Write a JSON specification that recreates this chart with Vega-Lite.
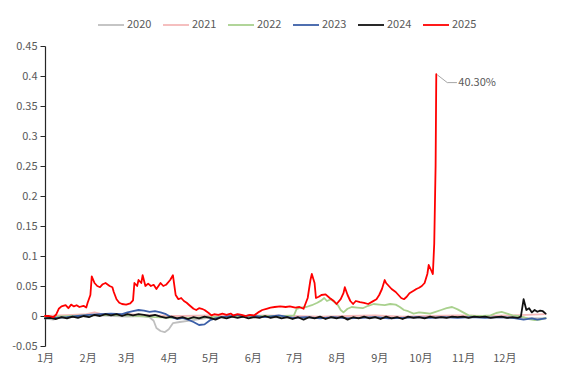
{
"$schema": "https://vega.github.io/schema/vega-lite/v6.json",
"width": 502, "height": 300,
"autosize": "none",
"padding": {"left": 45, "top": 46, "right": 22, "bottom": 30},
"background": "white",
"config": {"view": {"stroke": null}, "font": "Noto Sans CJK SC"},
"datasets": {
"series": [
{"year":"2020","day":0,"v":-0.004},{"year":"2020","day":6,"v":-0.006},{"year":"2020","day":10,"v":-0.003},{"year":"2020","day":20,"v":-0.002},{"year":"2020","day":30,"v":0.0},{"year":"2020","day":40,"v":0.001},{"year":"2020","day":50,"v":0.0},{"year":"2020","day":60,"v":-0.001},{"year":"2020","day":70,"v":0.0},{"year":"2020","day":76,"v":-0.002},{"year":"2020","day":79,"v":-0.008},{"year":"2020","day":81,"v":-0.02},{"year":"2020","day":84,"v":-0.025},{"year":"2020","day":87,"v":-0.027},{"year":"2020","day":90,"v":-0.022},{"year":"2020","day":93,"v":-0.012},{"year":"2020","day":98,"v":-0.01},{"year":"2020","day":104,"v":-0.008},{"year":"2020","day":110,"v":-0.006},{"year":"2020","day":116,"v":-0.004},{"year":"2020","day":122,"v":-0.002},{"year":"2020","day":130,"v":0.0},{"year":"2020","day":140,"v":-0.001},{"year":"2020","day":160,"v":-0.002},{"year":"2020","day":180,"v":-0.003},{"year":"2020","day":200,"v":-0.002},{"year":"2020","day":220,"v":-0.003},{"year":"2020","day":240,"v":-0.002},{"year":"2020","day":260,"v":-0.003},{"year":"2020","day":280,"v":-0.002},{"year":"2020","day":300,"v":-0.002},{"year":"2020","day":320,"v":-0.002},{"year":"2020","day":340,"v":-0.003},{"year":"2020","day":364,"v":-0.004},
{"year":"2021","day":0,"v":0.0},{"year":"2021","day":10,"v":0.001},{"year":"2021","day":20,"v":0.002},{"year":"2021","day":30,"v":0.003},{"year":"2021","day":36,"v":0.006},{"year":"2021","day":40,"v":0.004},{"year":"2021","day":50,"v":0.002},{"year":"2021","day":60,"v":0.003},{"year":"2021","day":70,"v":0.002},{"year":"2021","day":80,"v":0.001},{"year":"2021","day":90,"v":0.0},{"year":"2021","day":100,"v":0.0},{"year":"2021","day":120,"v":0.001},{"year":"2021","day":140,"v":0.0},{"year":"2021","day":160,"v":0.001},{"year":"2021","day":180,"v":0.0},{"year":"2021","day":200,"v":-0.001},{"year":"2021","day":220,"v":0.0},{"year":"2021","day":240,"v":0.001},{"year":"2021","day":260,"v":-0.001},{"year":"2021","day":280,"v":0.0},{"year":"2021","day":300,"v":0.001},{"year":"2021","day":320,"v":0.0},{"year":"2021","day":340,"v":0.001},{"year":"2021","day":350,"v":0.002},{"year":"2021","day":364,"v":0.003},
{"year":"2022","day":0,"v":-0.002},{"year":"2022","day":20,"v":0.0},{"year":"2022","day":40,"v":0.002},{"year":"2022","day":60,"v":0.001},{"year":"2022","day":80,"v":-0.002},{"year":"2022","day":100,"v":-0.004},{"year":"2022","day":120,"v":-0.002},{"year":"2022","day":140,"v":-0.001},{"year":"2022","day":160,"v":0.0},{"year":"2022","day":175,"v":0.0},{"year":"2022","day":181,"v":0.001},{"year":"2022","day":183,"v":0.012},{"year":"2022","day":186,"v":0.014},{"year":"2022","day":190,"v":0.015},{"year":"2022","day":194,"v":0.018},{"year":"2022","day":198,"v":0.022},{"year":"2022","day":201,"v":0.026},{"year":"2022","day":203,"v":0.03},{"year":"2022","day":205,"v":0.025},{"year":"2022","day":208,"v":0.028},{"year":"2022","day":211,"v":0.022},{"year":"2022","day":213,"v":0.018},{"year":"2022","day":215,"v":0.01},{"year":"2022","day":217,"v":0.006},{"year":"2022","day":220,"v":0.012},{"year":"2022","day":223,"v":0.015},{"year":"2022","day":227,"v":0.014},{"year":"2022","day":231,"v":0.013},{"year":"2022","day":235,"v":0.017},{"year":"2022","day":239,"v":0.02},{"year":"2022","day":243,"v":0.019},{"year":"2022","day":247,"v":0.018},{"year":"2022","day":251,"v":0.02},{"year":"2022","day":255,"v":0.019},{"year":"2022","day":258,"v":0.015},{"year":"2022","day":261,"v":0.01},{"year":"2022","day":264,"v":0.008},{"year":"2022","day":268,"v":0.004},{"year":"2022","day":272,"v":0.006},{"year":"2022","day":276,"v":0.005},{"year":"2022","day":280,"v":0.004},{"year":"2022","day":284,"v":0.007},{"year":"2022","day":288,"v":0.01},{"year":"2022","day":292,"v":0.013},{"year":"2022","day":296,"v":0.015},{"year":"2022","day":300,"v":0.011},{"year":"2022","day":304,"v":0.006},{"year":"2022","day":308,"v":0.001},{"year":"2022","day":312,"v":0.0},{"year":"2022","day":318,"v":0.0},{"year":"2022","day":324,"v":0.001},{"year":"2022","day":328,"v":0.005},{"year":"2022","day":332,"v":0.007},{"year":"2022","day":336,"v":0.004},{"year":"2022","day":340,"v":0.001},{"year":"2022","day":344,"v":0.0},{"year":"2022","day":348,"v":-0.002},{"year":"2022","day":352,"v":-0.005},{"year":"2022","day":356,"v":-0.007},{"year":"2022","day":360,"v":-0.006},{"year":"2022","day":364,"v":-0.003},
{"year":"2023","day":0,"v":-0.004},{"year":"2023","day":8,"v":-0.003},{"year":"2023","day":16,"v":-0.002},{"year":"2023","day":24,"v":0.0},{"year":"2023","day":32,"v":0.002},{"year":"2023","day":40,"v":0.003},{"year":"2023","day":48,"v":0.004},{"year":"2023","day":56,"v":0.003},{"year":"2023","day":60,"v":0.006},{"year":"2023","day":64,"v":0.008},{"year":"2023","day":68,"v":0.01},{"year":"2023","day":72,"v":0.009},{"year":"2023","day":76,"v":0.007},{"year":"2023","day":80,"v":0.008},{"year":"2023","day":84,"v":0.006},{"year":"2023","day":88,"v":0.003},{"year":"2023","day":92,"v":-0.002},{"year":"2023","day":96,"v":-0.005},{"year":"2023","day":100,"v":-0.003},{"year":"2023","day":104,"v":-0.006},{"year":"2023","day":108,"v":-0.01},{"year":"2023","day":112,"v":-0.015},{"year":"2023","day":116,"v":-0.014},{"year":"2023","day":120,"v":-0.007},{"year":"2023","day":124,"v":-0.004},{"year":"2023","day":128,"v":-0.002},{"year":"2023","day":136,"v":0.0},{"year":"2023","day":140,"v":0.002},{"year":"2023","day":144,"v":-0.001},{"year":"2023","day":148,"v":0.001},{"year":"2023","day":152,"v":0.0},{"year":"2023","day":160,"v":-0.002},{"year":"2023","day":170,"v":0.001},{"year":"2023","day":180,"v":-0.003},{"year":"2023","day":190,"v":-0.002},{"year":"2023","day":200,"v":-0.004},{"year":"2023","day":210,"v":-0.002},{"year":"2023","day":220,"v":-0.004},{"year":"2023","day":230,"v":-0.003},{"year":"2023","day":240,"v":-0.002},{"year":"2023","day":250,"v":-0.004},{"year":"2023","day":260,"v":-0.003},{"year":"2023","day":270,"v":-0.002},{"year":"2023","day":280,"v":-0.003},{"year":"2023","day":290,"v":-0.002},{"year":"2023","day":300,"v":-0.003},{"year":"2023","day":310,"v":-0.002},{"year":"2023","day":320,"v":-0.003},{"year":"2023","day":330,"v":-0.002},{"year":"2023","day":340,"v":-0.003},{"year":"2023","day":348,"v":-0.006},{"year":"2023","day":354,"v":-0.004},{"year":"2023","day":358,"v":-0.006},{"year":"2023","day":364,"v":-0.004},
{"year":"2024","day":0,"v":-0.004},{"year":"2024","day":4,"v":-0.003},{"year":"2024","day":8,"v":-0.005},{"year":"2024","day":12,"v":-0.002},{"year":"2024","day":16,"v":-0.004},{"year":"2024","day":20,"v":-0.001},{"year":"2024","day":24,"v":-0.003},{"year":"2024","day":28,"v":0.0},{"year":"2024","day":32,"v":-0.002},{"year":"2024","day":36,"v":0.002},{"year":"2024","day":40,"v":0.0},{"year":"2024","day":44,"v":0.003},{"year":"2024","day":48,"v":0.001},{"year":"2024","day":52,"v":0.003},{"year":"2024","day":56,"v":0.0},{"year":"2024","day":60,"v":0.003},{"year":"2024","day":64,"v":0.001},{"year":"2024","day":68,"v":0.003},{"year":"2024","day":72,"v":0.002},{"year":"2024","day":76,"v":0.0},{"year":"2024","day":80,"v":0.002},{"year":"2024","day":84,"v":-0.001},{"year":"2024","day":88,"v":-0.003},{"year":"2024","day":92,"v":-0.001},{"year":"2024","day":96,"v":-0.004},{"year":"2024","day":100,"v":-0.002},{"year":"2024","day":104,"v":-0.005},{"year":"2024","day":108,"v":-0.002},{"year":"2024","day":112,"v":-0.004},{"year":"2024","day":116,"v":-0.001},{"year":"2024","day":120,"v":-0.003},{"year":"2024","day":124,"v":-0.006},{"year":"2024","day":128,"v":-0.002},{"year":"2024","day":132,"v":-0.004},{"year":"2024","day":136,"v":-0.001},{"year":"2024","day":140,"v":-0.003},{"year":"2024","day":144,"v":-0.001},{"year":"2024","day":148,"v":-0.004},{"year":"2024","day":152,"v":-0.002},{"year":"2024","day":156,"v":-0.003},{"year":"2024","day":160,"v":0.0},{"year":"2024","day":164,"v":-0.003},{"year":"2024","day":168,"v":-0.001},{"year":"2024","day":172,"v":-0.004},{"year":"2024","day":176,"v":-0.002},{"year":"2024","day":180,"v":-0.005},{"year":"2024","day":184,"v":-0.002},{"year":"2024","day":188,"v":-0.006},{"year":"2024","day":192,"v":-0.002},{"year":"2024","day":196,"v":-0.004},{"year":"2024","day":200,"v":-0.001},{"year":"2024","day":204,"v":-0.005},{"year":"2024","day":208,"v":-0.002},{"year":"2024","day":212,"v":-0.004},{"year":"2024","day":216,"v":-0.001},{"year":"2024","day":220,"v":-0.006},{"year":"2024","day":224,"v":-0.002},{"year":"2024","day":228,"v":-0.004},{"year":"2024","day":232,"v":-0.001},{"year":"2024","day":236,"v":-0.004},{"year":"2024","day":240,"v":-0.002},{"year":"2024","day":244,"v":-0.005},{"year":"2024","day":248,"v":-0.001},{"year":"2024","day":252,"v":-0.004},{"year":"2024","day":256,"v":-0.002},{"year":"2024","day":260,"v":-0.005},{"year":"2024","day":264,"v":-0.001},{"year":"2024","day":268,"v":-0.003},{"year":"2024","day":272,"v":-0.002},{"year":"2024","day":276,"v":-0.004},{"year":"2024","day":280,"v":-0.001},{"year":"2024","day":284,"v":-0.003},{"year":"2024","day":288,"v":-0.002},{"year":"2024","day":292,"v":-0.003},{"year":"2024","day":296,"v":-0.001},{"year":"2024","day":300,"v":-0.002},{"year":"2024","day":304,"v":-0.001},{"year":"2024","day":308,"v":-0.003},{"year":"2024","day":312,"v":-0.001},{"year":"2024","day":316,"v":-0.002},{"year":"2024","day":320,"v":-0.001},{"year":"2024","day":324,"v":-0.003},{"year":"2024","day":328,"v":-0.002},{"year":"2024","day":332,"v":-0.001},{"year":"2024","day":336,"v":-0.003},{"year":"2024","day":340,"v":-0.002},{"year":"2024","day":344,"v":-0.003},{"year":"2024","day":346,"v":-0.001},{"year":"2024","day":348,"v":0.028},{"year":"2024","day":350,"v":0.01},{"year":"2024","day":352,"v":0.013},{"year":"2024","day":354,"v":0.006},{"year":"2024","day":356,"v":0.01},{"year":"2024","day":358,"v":0.007},{"year":"2024","day":360,"v":0.009},{"year":"2024","day":362,"v":0.008},{"year":"2024","day":364,"v":0.004},
{"year":"2025","day":0,"v":0.0},{"year":"2025","day":3,"v":0.0},{"year":"2025","day":6,"v":-0.002},{"year":"2025","day":8,"v":0.002},{"year":"2025","day":10,"v":0.012},{"year":"2025","day":12,"v":0.016},{"year":"2025","day":15,"v":0.018},{"year":"2025","day":17,"v":0.013},{"year":"2025","day":19,"v":0.019},{"year":"2025","day":21,"v":0.016},{"year":"2025","day":23,"v":0.018},{"year":"2025","day":25,"v":0.015},{"year":"2025","day":28,"v":0.017},{"year":"2025","day":30,"v":0.014},{"year":"2025","day":31,"v":0.022},{"year":"2025","day":33,"v":0.035},{"year":"2025","day":34,"v":0.066},{"year":"2025","day":36,"v":0.055},{"year":"2025","day":38,"v":0.05},{"year":"2025","day":40,"v":0.048},{"year":"2025","day":42,"v":0.053},{"year":"2025","day":44,"v":0.055},{"year":"2025","day":47,"v":0.05},{"year":"2025","day":49,"v":0.048},{"year":"2025","day":50,"v":0.04},{"year":"2025","day":52,"v":0.028},{"year":"2025","day":54,"v":0.022},{"year":"2025","day":56,"v":0.02},{"year":"2025","day":59,"v":0.019},{"year":"2025","day":62,"v":0.021},{"year":"2025","day":64,"v":0.026},{"year":"2025","day":65,"v":0.055},{"year":"2025","day":67,"v":0.05},{"year":"2025","day":68,"v":0.06},{"year":"2025","day":70,"v":0.055},{"year":"2025","day":71,"v":0.068},{"year":"2025","day":73,"v":0.05},{"year":"2025","day":75,"v":0.054},{"year":"2025","day":77,"v":0.05},{"year":"2025","day":79,"v":0.052},{"year":"2025","day":81,"v":0.045},{"year":"2025","day":84,"v":0.055},{"year":"2025","day":86,"v":0.05},{"year":"2025","day":88,"v":0.052},{"year":"2025","day":91,"v":0.06},{"year":"2025","day":93,"v":0.068},{"year":"2025","day":95,"v":0.035},{"year":"2025","day":97,"v":0.028},{"year":"2025","day":99,"v":0.03},{"year":"2025","day":101,"v":0.025},{"year":"2025","day":103,"v":0.022},{"year":"2025","day":105,"v":0.018},{"year":"2025","day":108,"v":0.012},{"year":"2025","day":110,"v":0.01},{"year":"2025","day":112,"v":0.013},{"year":"2025","day":114,"v":0.012},{"year":"2025","day":116,"v":0.01},{"year":"2025","day":119,"v":0.005},{"year":"2025","day":121,"v":0.001},{"year":"2025","day":123,"v":0.003},{"year":"2025","day":126,"v":0.002},{"year":"2025","day":129,"v":0.004},{"year":"2025","day":132,"v":0.002},{"year":"2025","day":135,"v":0.004},{"year":"2025","day":137,"v":0.001},{"year":"2025","day":140,"v":0.003},{"year":"2025","day":143,"v":0.002},{"year":"2025","day":146,"v":0.0},{"year":"2025","day":149,"v":0.002},{"year":"2025","day":152,"v":0.001},{"year":"2025","day":155,"v":0.006},{"year":"2025","day":158,"v":0.01},{"year":"2025","day":161,"v":0.012},{"year":"2025","day":164,"v":0.014},{"year":"2025","day":167,"v":0.015},{"year":"2025","day":171,"v":0.016},{"year":"2025","day":175,"v":0.015},{"year":"2025","day":178,"v":0.016},{"year":"2025","day":182,"v":0.014},{"year":"2025","day":185,"v":0.015},{"year":"2025","day":188,"v":0.012},{"year":"2025","day":191,"v":0.03},{"year":"2025","day":193,"v":0.06},{"year":"2025","day":194,"v":0.07},{"year":"2025","day":196,"v":0.055},{"year":"2025","day":197,"v":0.03},{"year":"2025","day":199,"v":0.032},{"year":"2025","day":201,"v":0.035},{"year":"2025","day":204,"v":0.036},{"year":"2025","day":207,"v":0.03},{"year":"2025","day":210,"v":0.025},{"year":"2025","day":212,"v":0.02},{"year":"2025","day":215,"v":0.028},{"year":"2025","day":217,"v":0.038},{"year":"2025","day":218,"v":0.048},{"year":"2025","day":220,"v":0.035},{"year":"2025","day":222,"v":0.025},{"year":"2025","day":224,"v":0.02},{"year":"2025","day":226,"v":0.025},{"year":"2025","day":229,"v":0.023},{"year":"2025","day":232,"v":0.022},{"year":"2025","day":235,"v":0.02},{"year":"2025","day":238,"v":0.024},{"year":"2025","day":241,"v":0.028},{"year":"2025","day":243,"v":0.035},{"year":"2025","day":245,"v":0.045},{"year":"2025","day":247,"v":0.06},{"year":"2025","day":248,"v":0.055},{"year":"2025","day":250,"v":0.05},{"year":"2025","day":252,"v":0.045},{"year":"2025","day":255,"v":0.04},{"year":"2025","day":257,"v":0.035},{"year":"2025","day":259,"v":0.03},{"year":"2025","day":261,"v":0.028},{"year":"2025","day":263,"v":0.032},{"year":"2025","day":265,"v":0.038},{"year":"2025","day":268,"v":0.042},{"year":"2025","day":270,"v":0.045},{"year":"2025","day":272,"v":0.047},{"year":"2025","day":274,"v":0.05},{"year":"2025","day":276,"v":0.055},{"year":"2025","day":278,"v":0.07},{"year":"2025","day":279,"v":0.085},{"year":"2025","day":281,"v":0.075},{"year":"2025","day":282,"v":0.07},{"year":"2025","day":283,"v":0.12},{"year":"2025","day":284,"v":0.25},{"year":"2025","day":284.5,"v":0.403}
]
},
"layer": [
{
"data": {"name": "series"},
"mark": {"type": "line", "strokeJoin": "round", "strokeCap": "round"},
"encoding": {
"x": {"field": "day", "type": "quantitative", "scale": {"domain": [0, 365], "nice": false, "zero": false},
 "axis": {"title": null, "values": [0,31,59,90,120,151,181,212,243,273,304,334], "tickCount": 30, "labelExpr": "(indexof([0,31,59,90,120,151,181,212,243,273,304,334], datum.value) + 1) + '月'", "domain": false, "ticks": false, "grid": false, "labelPadding": 6, "labelFontSize": 11, "labelColor": "#595959", "labelFlush": false, "labelOverlap": false}},
"y": {"field": "v", "type": "quantitative", "scale": {"domain": [-0.05, 0.45], "nice": false, "zero": false},
 "axis": {"title": null, "values": [-0.05,0,0.05,0.1,0.15,0.2,0.25,0.3,0.35,0.4,0.45], "tickCount": 30, "labelExpr": "'' + datum.value", "grid": false, "domainColor": "#262626", "domainWidth": 1.2, "tickColor": "#262626", "tickSize": 5, "labelPadding": 3, "labelFontSize": 11, "labelColor": "#595959", "labelOverlap": false, "labelFlush": false}},
"color": {"field": "year", "type": "nominal", "scale": {"domain": ["2020","2021","2022","2023","2024","2025"], "range": ["#BFBFBF","#F4B8B8","#A9D18E","#3B5FA8","#111111","#FF0000"]},
 "legend": {"title": null, "orient": "none", "legendX": 52, "legendY": -35, "direction": "horizontal", "symbolType": "stroke", "symbolSize": 676, "symbolStrokeWidth": 3, "labelFontSize": 11, "labelColor": "#595959", "labelOffset": 2, "columnPadding": 7, "padding": 0}},
"strokeWidth": {"field": "year", "type": "ordinal", "scale": {"domain": ["2020","2021","2022","2023","2024","2025"], "range": [1.8,1.8,1.8,1.8,2,3.8]}, "legend": null}
}
},
{
"data": {"values": [{"day": 285.2, "v": 0.402, "k": 0}, {"day": 292.5, "v": 0.389, "k": 1}, {"day": 299.5, "v": 0.389, "k": 2}]},
"mark": {"type": "line", "color": "#A6A6A6", "strokeWidth": 1},
"encoding": {"x": {"field": "day", "type": "quantitative"}, "y": {"field": "v", "type": "quantitative"}, "order": {"field": "k", "type": "quantitative"}}
},
{
"data": {"values": [{"day": 300.5, "v": 0.389, "label": "40.30%"}]},
"mark": {"type": "text", "align": "left", "baseline": "middle", "fontSize": 11, "color": "#595959"},
"encoding": {"x": {"field": "day", "type": "quantitative"}, "y": {"field": "v", "type": "quantitative"}, "text": {"field": "label"}}
}
]
}
